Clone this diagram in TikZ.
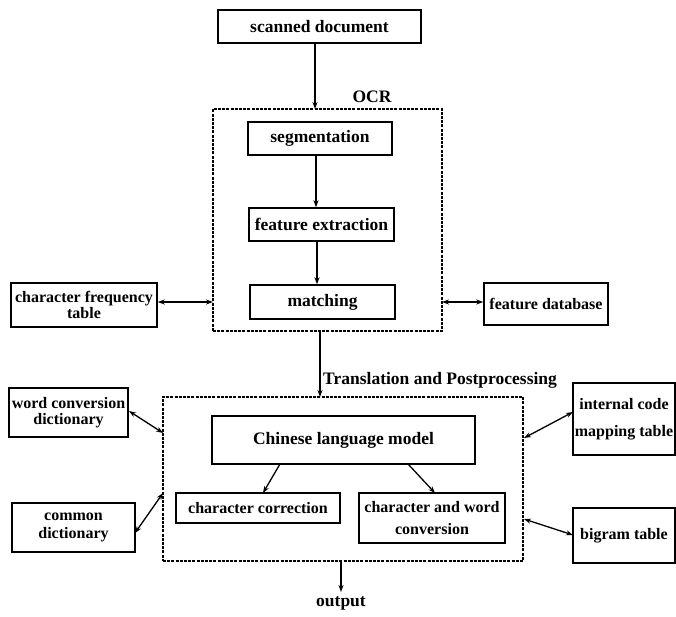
\documentclass[tikz,border=0pt]{standalone}
\usepackage{fontspec}
\setmainfont{Liberation Serif}
\usetikzlibrary{arrows.meta}
\tikzset{
  box/.style={draw, line width=1.4pt, inner sep=0pt, align=center, font=\bfseries\fontsize{16}{16}\selectfont},
  bigbox/.style={box, font=\bfseries\fontsize{17.5}{18}\selectfont},
  group/.style={draw, line width=1.4pt, dash pattern=on 3pt off 1.2pt, inner sep=0pt},
  lbl/.style={font=\bfseries\fontsize{17.5}{18}\selectfont, inner sep=0pt},
  arr/.style={line width=1.3pt, -{Stealth[length=7pt,width=5pt]}},
  darr/.style={line width=1.3pt, {Stealth[length=7pt,width=5pt]}-{Stealth[length=7pt,width=5pt]}}
}
\begin{document}
\begin{tikzpicture}[x=1pt,y=-1pt]
\useasboundingbox (0,0) rectangle (676,616);
% top
\node[bigbox, minimum width=203pt, minimum height=33pt] (scan) at (319.5,26.5) {scanned document};
% OCR group
\node[group, minimum width=229pt, minimum height=222pt] (ocr) at (327.5,220) {};
\node[lbl] (ocrlbl) at (372,97) {OCR};
\node[bigbox, minimum width=144pt, minimum height=33pt] (seg) at (320,138.5) {segmentation};
\node[bigbox, minimum width=145pt, minimum height=33pt] (fe) at (321.5,224.5) {feature extraction};
\node[bigbox, minimum width=145pt, minimum height=34pt] (match) at (322.5,302) {matching};
\node[box, minimum width=146pt, minimum height=44pt, font=\bfseries\fontsize{16}{14}\selectfont] (cft) at (84,305) {character frequency\\table};
\node[box, minimum width=124pt, minimum height=42pt] (fdb) at (546,304) {feature database};
% Translation group
\node[group, minimum width=360pt, minimum height=164pt] (tp) at (343,479) {};
\node[lbl, anchor=west] (tplbl) at (323,380) {Translation and Postprocessing};
\node[bigbox, minimum width=263pt, minimum height=48pt] (clm) at (343.5,440) {Chinese language model};
\node[box, minimum width=164pt, minimum height=30pt] (cc) at (258,508) {character correction};
\node[box, minimum width=146pt, minimum height=50pt, font=\bfseries\fontsize{16}{22}\selectfont] (cwc) at (432,518) {character and word\\conversion};
\node[box, minimum width=119pt, minimum height=49pt, font=\bfseries\fontsize{16}{16}\selectfont] (wcd) at (68.5,412.5) {word conversion\\dictionary};
\node[box, minimum width=123pt, minimum height=49pt, font=\bfseries\fontsize{16}{18}\selectfont] (cd) at (73.5,527.5) {common\\dictionary};
\node[box, minimum width=102pt, minimum height=72pt, font=\bfseries\fontsize{16}{27}\selectfont] (icm) at (624,419) {internal code\\mapping table};
\node[box, minimum width=102pt, minimum height=55pt] (bt) at (624,535.5) {bigram table};
\node[lbl] (out) at (341,603) {output};
% connectors
\coordinate (ocrin) at (315,109);
\draw[arr] (scan.south -| ocrin) -- (ocrin);
\coordinate (segx) at (316,0);
\coordinate (fex) at (317,0);
\draw[arr] (seg.south -| segx) -- (fe.north -| segx);
\draw[arr] (fe.south -| fex) -- (match.north -| fex);
\coordinate (ocrl) at (213,302);
\coordinate (ocrr) at (442,302);
\draw[darr] (cft.east |- ocrl) -- (ocrl);
\draw[darr] (ocrr) -- (fdb.west |- ocrr);
\coordinate (ocrb) at (320,331);
\coordinate (tpt) at (320,397);
\draw[arr] (ocrb) -- (tpt);
\coordinate (clm1) at (280,464);
\coordinate (cc1) at (263,493);
\draw[arr] (clm1) -- (cc1);
\coordinate (clm2) at (408,464);
\coordinate (cwc1) at (435,493);
\draw[arr] (clm2) -- (cwc1);
\coordinate (wcd1) at (129,411);
\coordinate (tpl1) at (163,433);
\draw[darr] (wcd1) -- (tpl1);
\coordinate (cd1) at (135,533);
\coordinate (tpl2) at (163,493);
\draw[darr] (cd1) -- (tpl2);
\coordinate (tpr1) at (524,438);
\coordinate (icm1) at (573,412);
\draw[darr] (tpr1) -- (icm1);
\coordinate (tpr2) at (524,519);
\coordinate (bt1) at (573,535);
\draw[darr] (tpr2) -- (bt1);
\coordinate (tpb) at (341,561);
\coordinate (outa) at (341,592);
\draw[arr] (tpb) -- (outa);
\end{tikzpicture}
\end{document}
